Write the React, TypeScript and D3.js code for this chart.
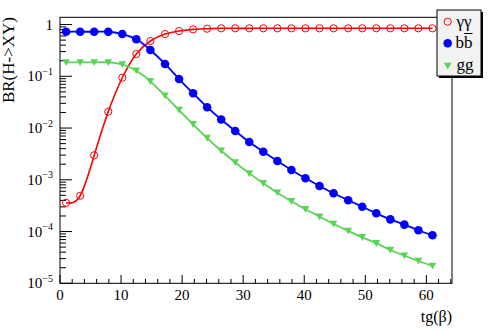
import React from 'react'
import * as d3 from 'd3'

// tg(beta) sample points
const tgb = [1, 3.3, 5.6, 7.9, 10.2, 12.5, 14.8, 17.2, 19.5, 21.8, 24.1, 26.4, 28.7, 31, 33.3, 35.6, 37.9, 40.2, 42.5, 44.8, 47.2, 49.5, 51.8, 54.1, 56.4, 58.7, 61]

const brGamma = [3.6e-4, 4.92e-4, 2.97e-3, 0.0207, 0.0938, 0.269, 0.48, 0.655, 0.749, 0.807, 0.83, 0.845, 0.845, 0.845, 0.845, 0.845, 0.845, 0.845, 0.845, 0.845, 0.845, 0.845, 0.845, 0.845, 0.845, 0.845, 0.845]
const brBB = [0.726, 0.726, 0.726, 0.726, 0.655, 0.518, 0.322, 0.173, 0.0886, 0.0469, 0.0253, 0.0146, 0.00876, 0.00537, 0.00349, 0.00231, 0.00155, 0.00107, 7.6e-4, 5.48e-4, 4.02e-4, 3.02e-4, 2.25e-4, 1.72e-4, 1.36e-4, 1.06e-4, 8.46e-5]
const brGG = [0.186, 0.186, 0.186, 0.186, 0.17, 0.128, 0.08, 0.0421, 0.0223, 0.0118, 0.00641, 0.00365, 0.00216, 0.00133, 8.55e-4, 5.62e-4, 3.84e-4, 2.69e-4, 1.94e-4, 1.4e-4, 1.03e-4, 7.74e-5, 5.93e-5, 4.4e-5, 3.41e-5, 2.7e-5, 2.16e-5]

const xTicks = [0, 10, 20, 30, 40, 50, 60]
const yDecades = [-5, -4, -3, -2, -1, 0]

const font = "'Liberation Serif', 'Times New Roman', Tinos, 'DejaVu Serif', serif"
const RED = '#ff0000', BLUE = '#0000ff', GREEN = '#59d454'

export default function App() {
  const width = 490, height = 332
  const left = 60, right = 452, top = 17.3, bottom = 283.3

  const x = d3.scaleLinear().domain([0, 64.2]).range([left, right])
  const y = d3.scaleLog().domain([1e-5, 1.38]).range([bottom, top])

  const mkLine = (vals: number[]) =>
    d3.line<number>()
      .x((d, i) => x(tgb[i]))
      .y(d => y(d))
      .curve(d3.curveNatural)(vals) as string

  // minor x ticks every 2
  const xMinor = d3.range(0, 64.1, 2).filter(v => v % 10 !== 0)
  const yMinor: number[] = []
  yDecades.forEach(k => {
    for (let m = 2; m <= 9; m++) {
      const v = m * Math.pow(10, k)
      if (v <= 1.38) yMinor.push(v)
    }
  })

  const tri = (cx: number, cy: number) =>
    `M${cx - 3.8},${cy - 3.2}L${cx + 3.8},${cy - 3.2}L${cx},${cy + 3.6}Z`

  const leg = { x: 437, y: 10, w: 44, h: 66 }

  return (
    <svg width={width} height={height} style={{ position: 'absolute', left: 0, top: 0, background: '#fff', fontFamily: font }}>
      {/* frame */}
      <rect x={left} y={top} width={right - left} height={bottom - top} fill="none" stroke="#000" strokeWidth={1} />

      {/* x ticks */}
      {xMinor.map(v => (
        <line key={'xm' + v} x1={x(v)} x2={x(v)} y1={bottom} y2={bottom - 4.3} stroke="#000" />
      ))}
      {xTicks.map(v => (
        <g key={'xt' + v}>
          <line x1={x(v)} x2={x(v)} y1={bottom} y2={bottom - 8.3} stroke="#000" />
          <text x={x(v)} y={299.5} textAnchor="middle" fontSize={15}>{v}</text>
        </g>
      ))}

      {/* y ticks */}
      {yMinor.map((v, i) => (
        <line key={'ym' + i} x1={left} x2={left + 6} y1={y(v)} y2={y(v)} stroke="#000" />
      ))}
      {yDecades.map(k => (
        <g key={'yt' + k}>
          <line x1={left} x2={left + 12} y1={y(Math.pow(10, k))} y2={y(Math.pow(10, k))} stroke="#000" />
          {k === 0 ? (
            <text x={53} y={y(1) + 5} textAnchor="end" fontSize={15}>1</text>
          ) : (
            <text x={53} y={y(Math.pow(10, k)) + 5} textAnchor="end" fontSize={15}>
              10<tspan fontSize={10} dy={-6.5}>{'\u2212' + (-k)}</tspan>
            </text>
          )}
        </g>
      ))}

      {/* titles */}
      <text x={452} y={322} textAnchor="end" fontSize={16}>tg(β)</text>
      <text transform="translate(13.5,17) rotate(-90)" textAnchor="end" fontSize={17}>BR(H-&gt;XY)</text>

      {/* curves */}
      <path d={mkLine(brGamma)} fill="none" stroke={RED} strokeWidth={1.6} />
      {brGamma.map((v, i) => (
        <circle key={'g' + i} cx={x(tgb[i])} cy={y(v)} r={3.6} fill="none" stroke={RED} strokeWidth={1} />
      ))}
      <path d={mkLine(brBB)} fill="none" stroke={BLUE} strokeWidth={1.8} />
      {brBB.map((v, i) => (
        <circle key={'b' + i} cx={x(tgb[i])} cy={y(v)} r={4.3} fill={BLUE} />
      ))}
      <path d={mkLine(brGG)} fill="none" stroke={GREEN} strokeWidth={1.8} />
      {brGG.map((v, i) => (
        <path key={'gg' + i} d={tri(x(tgb[i]), y(v))} fill={GREEN} />
      ))}

      {/* legend */}
      <rect x={leg.x + 2} y={leg.y + 2} width={leg.w} height={leg.h} fill="#000" />
      <rect x={leg.x} y={leg.y} width={leg.w} height={leg.h} fill="#f2f2f2" stroke="#000" strokeWidth={1} />
      <circle cx={447.7} cy={21.7} r={3.6} fill="none" stroke={RED} strokeWidth={1} />
      <text x={456.5} y={26.5} fontSize={17}>γγ</text>
      <circle cx={447.7} cy={43.3} r={4.3} fill={BLUE} />
      <text x={455.5} y={48} fontSize={17}>bb</text>
      <line x1={464.2} x2={472.5} y1={33.5} y2={33.5} stroke="#000" strokeWidth={1} />
      <path d={tri(447.7, 66)} fill={GREEN} />
      <text x={456.5} y={70} fontSize={17}>gg</text>
    </svg>
  )
}
